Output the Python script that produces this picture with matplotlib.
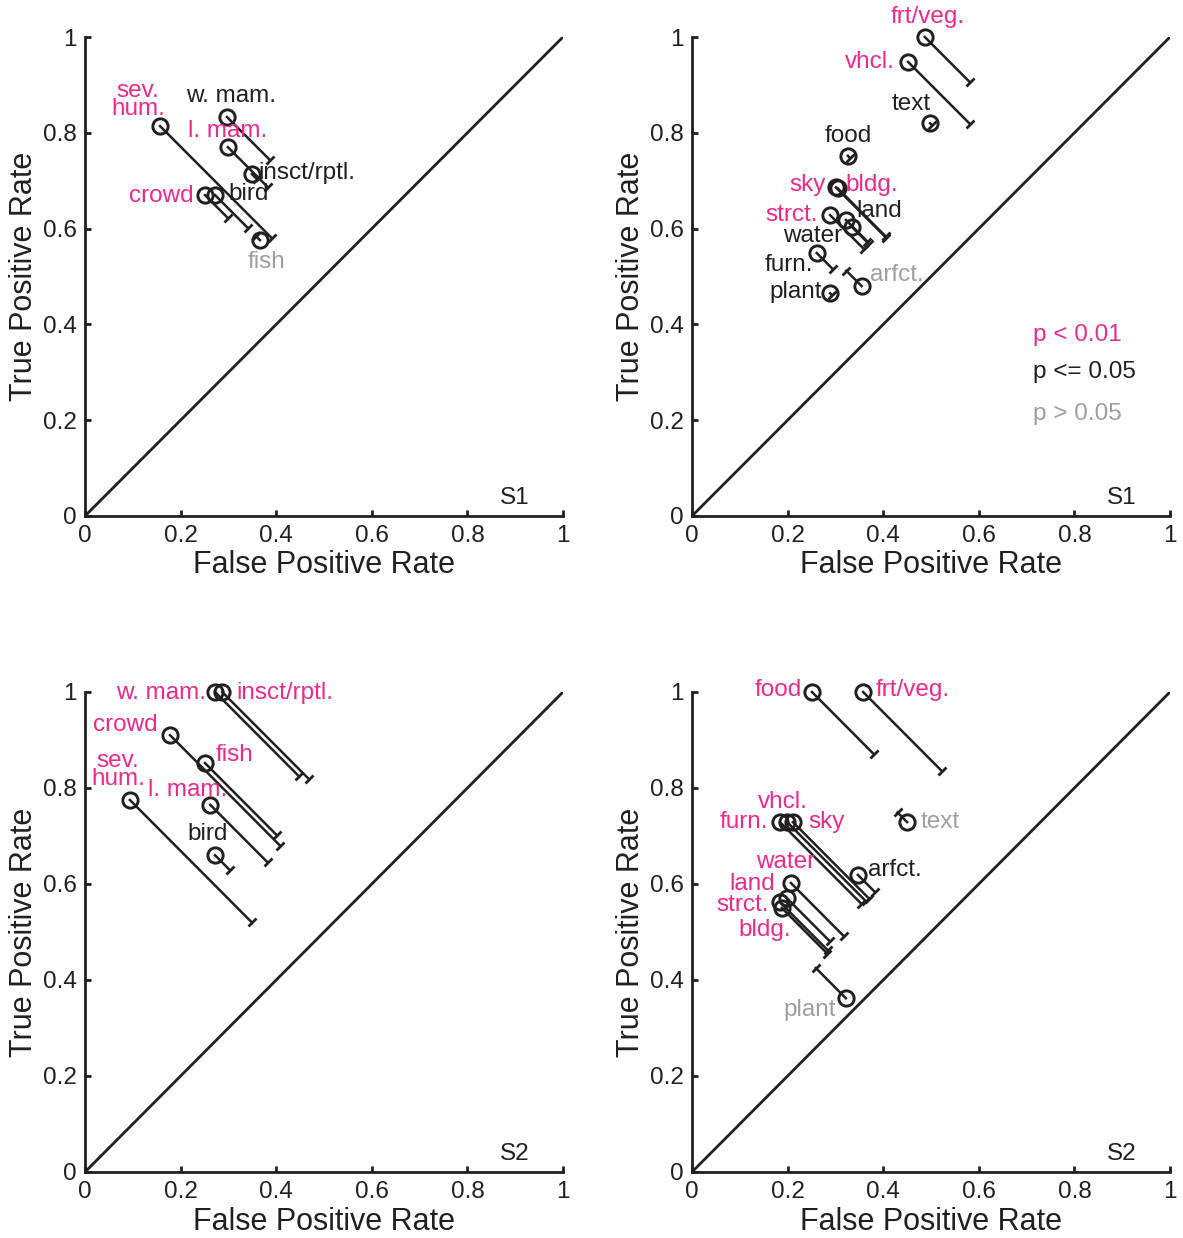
import matplotlib
matplotlib.use("Agg")
import matplotlib.pyplot as plt
from matplotlib.markers import MarkerStyle
from matplotlib.transforms import Affine2D

plt.rcParams['font.family'] = ['Liberation Sans', 'DejaVu Sans']

PINK = '#EC2A8D'
BLACK = '#231F20'
GRAY = '#9D9FA2'
SIG_COLORS = {2: PINK, 1: BLACK, 0: GRAY}

# ---------------- data ----------------
# Panel A: S1, animate/scene categories
a_names = ['sev.\nhum.', 'w. mam.', 'l. mam.', 'insct/rptl.', 'crowd', 'bird', 'fish']
a_fpr = [0.157, 0.297, 0.299, 0.349, 0.251, 0.272, 0.366]
a_tpr = [0.814, 0.833, 0.770, 0.714, 0.670, 0.670, 0.576]
a_shift = [0.234, 0.090, 0.084, 0.010, 0.048, 0.069, -0.008]
a_sig = [2, 1, 2, 1, 2, 1, 0]

# Panel B: S1, object categories
b_names = ['frt/veg.', 'vhcl.', 'text', 'food', 'sky', 'bldg.', 'strct.', 'land',
           'water', 'furn.', 'arfct.', 'plant']
b_fpr = [0.487, 0.452, 0.498, 0.326, 0.301, 0.305, 0.289, 0.322, 0.335, 0.261, 0.355, 0.289]
b_tpr = [1.000, 0.948, 0.820, 0.752, 0.686, 0.684, 0.628, 0.618, 0.603, 0.549, 0.480, 0.465]
b_shift = [0.094, 0.130, 0.004, 0.004, 0.105, 0.100, 0.070, 0.045, 0.035, 0.034, -0.032, 0.004]
b_sig = [2, 2, 1, 1, 2, 2, 2, 1, 1, 1, 0, 1]

# Panel C: S2, animate/scene categories
c_names = ['w. mam.', 'insct/rptl.', 'crowd', 'fish', 'sev.\nhum.', 'l. mam.', 'bird']
c_fpr = [0.272, 0.287, 0.178, 0.251, 0.094, 0.262, 0.272]
c_tpr = [1.000, 1.000, 0.910, 0.852, 0.775, 0.765, 0.660]
c_shift = [0.176, 0.182, 0.230, 0.150, 0.255, 0.120, 0.031]
c_sig = [2, 2, 2, 2, 2, 2, 1]

# Panel D: S2, object categories
d_names = ['food', 'frt/veg.', 'text', 'furn.', 'vhcl.', 'sky', 'arfct.', 'water',
           'land', 'strct.', 'bldg.', 'plant']
d_fpr = [0.251, 0.358, 0.450, 0.184, 0.199, 0.211, 0.347, 0.207, 0.198, 0.184, 0.188, 0.322]
d_tpr = [1.000, 1.000, 0.729, 0.729, 0.729, 0.729, 0.619, 0.602, 0.571, 0.562, 0.550, 0.362]
d_shift = [0.130, 0.165, -0.020, 0.170, 0.165, 0.160, 0.036, 0.110, 0.090, 0.100, 0.095, -0.063]
d_sig = [2, 2, 0, 2, 2, 2, 1, 2, 2, 2, 2, 0]

subject_labels = ['S1', 'S1', 'S2', 'S2']
ticks = [0, 0.2, 0.4, 0.6, 0.8, 1]
tick_labels = ['0', '0.2', '0.4', '0.6', '0.8', '1']
legend_texts = ['p < 0.01', 'p <= 0.05', 'p > 0.05']
legend_sig = [2, 1, 0]

# ---------------- label placement (layout only) ----------------
a_lab = [(0.111, 0.868, 'center'), (0.305, 0.877, 'center'), (0.299, 0.804, 'center'),
         (0.362, 0.716, 'left'), (0.228, 0.668, 'right'), (0.301, 0.672, 'left'),
         (0.379, 0.530, 'center')]
b_lab = [(0.494, 1.042, 'center'), (0.425, 0.948, 'right'), (0.458, 0.860, 'center'),
         (0.326, 0.793, 'center'), (0.280, 0.691, 'right'), (0.322, 0.691, 'left'),
         (0.264, 0.628, 'right'), (0.343, 0.637, 'left'), (0.314, 0.585, 'right'),
         (0.253, 0.524, 'right'), (0.372, 0.503, 'left'), (0.272, 0.468, 'right')]
c_lab = [(0.253, 0.998, 'right'), (0.316, 0.998, 'left'), (0.084, 0.931, 'center'),
         (0.274, 0.869, 'left'), (0.069, 0.838, 'center'), (0.215, 0.796, 'center'),
         (0.257, 0.704, 'center')]
d_lab = [(0.230, 1.004, 'right'), (0.385, 1.004, 'left'), (0.479, 0.729, 'left'),
         (0.159, 0.729, 'right'), (0.190, 0.771, 'center'), (0.243, 0.729, 'left'),
         (0.368, 0.629, 'left'), (0.195, 0.646, 'center'), (0.126, 0.600, 'center'),
         (0.105, 0.556, 'center'), (0.153, 0.504, 'center'), (0.247, 0.3375, 'center')]

panels = [
    (a_names, a_fpr, a_tpr, a_shift, a_sig, a_lab),
    (b_names, b_fpr, b_tpr, b_shift, b_sig, b_lab),
    (c_names, c_fpr, c_tpr, c_shift, c_sig, c_lab),
    (d_names, d_fpr, d_tpr, d_shift, d_sig, d_lab),
]

W, H = 1183, 1238
fig = plt.figure(figsize=(W / 100, H / 100), dpi=100)

# axes rectangles in pixels (left, top, right, bottom)
rects = [(85, 37, 563, 516), (692, 37, 1170, 516),
         (85, 692, 563, 1172), (692, 692, 1170, 1172)]

cap_marker = MarkerStyle('_', transform=Affine2D().rotate_deg(45))
FS = 17.5

for i, (rect, panel) in enumerate(zip(rects, panels)):
    l, t, r, b = rect
    ax = fig.add_axes([l / W, (H - b) / H, (r - l) / W, (b - t) / H])
    names, fpr, tpr, shift, sig, lab = panel

    ax.set_xlim(0, 1)
    ax.set_ylim(0, 1)
    for s in ['top', 'right']:
        ax.spines[s].set_visible(False)
    for s in ['left', 'bottom']:
        ax.spines[s].set_linewidth(2.0)
        ax.spines[s].set_color(BLACK)
    ax.set_xticks(ticks)
    ax.set_yticks(ticks)
    ax.set_xticklabels(tick_labels)
    ax.set_yticklabels(tick_labels)
    ax.tick_params(direction='in', length=4.5, width=2.0, color=BLACK,
                   labelsize=FS, labelcolor=BLACK)
    ax.tick_params(axis='x', pad=6.5)
    ax.tick_params(axis='y', pad=6)
    ax.set_xlabel('False Positive Rate', fontsize=22, color=BLACK)
    ax.set_ylabel('True Positive Rate', fontsize=22, color=BLACK)
    ax.xaxis.set_label_coords(0.5, -0.072)
    ax.yaxis.set_label_coords(-0.097, 0.5)

    # chance diagonal
    ax.plot([0, 1], [0, 1], color=BLACK, lw=2.0, solid_capstyle='butt')

    for n, x, y, d, s_, (lx, ly, ha) in zip(names, fpr, tpr, shift, sig, lab):
        ex, ey = x + d, y - d
        ax.plot([x, ex], [y, ey], color=BLACK, lw=1.8, clip_on=False, zorder=3)
        ax.plot([ex], [ey], marker=cap_marker, ms=8, mew=2.0, color=BLACK,
                clip_on=False, zorder=3)
        ax.plot([x], [y], marker='o', ms=11, mfc='none', mec=BLACK, mew=2.1,
                clip_on=False, zorder=4)
        ax.text(lx, ly, n, ha=ha, va='center', fontsize=FS, color=SIG_COLORS[s_],
                linespacing=0.75, zorder=5)

    ax.text(0.90, 0.037, subject_labels[i], ha='center', va='center', fontsize=FS,
            color=BLACK)

    if i == 1:
        for k, (txt, sg) in enumerate(zip(legend_texts, legend_sig)):
            ax.text(0.713, [0.378, 0.301, 0.213][k], txt, ha='left', va='center',
                    fontsize=FS, color=SIG_COLORS[sg])

fig.savefig('out.png', dpi=100)
